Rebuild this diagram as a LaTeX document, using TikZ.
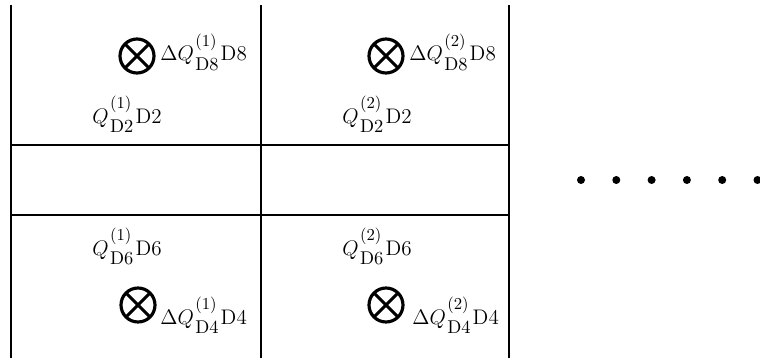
\documentclass[tikz,border=0pt]{standalone}
\usepackage{amsmath}
\usetikzlibrary{positioning}
\newcommand{\qsup}[1]{\rlap{\raisebox{8pt}{\fontsize{9.5}{11}\selectfont(#1)}}}
\newcommand{\qsub}[1]{\raisebox{-5.5pt}{\fontsize{10.5}{12}\selectfont #1}}
\newcommand{\qlab}[4]{$#1Q$\kern0.8pt\qsup{#2}\qsub{#3}\kern1.2pt#4}
\tikzset{
  gridline/.style={line width=1.6pt,draw=black},
  mixer/.style={circle,draw=black,line width=1.8pt,minimum size=6.8mm,inner sep=0pt,
    path picture={\draw[line width=1.8pt] (path picture bounding box.north west) -- (path picture bounding box.south east)
      (path picture bounding box.north east) -- (path picture bounding box.south west);}},
  lbl/.style={anchor=base west,inner sep=0pt,font=\fontsize{12}{14}\selectfont},
  dotnode/.style={circle,fill=black,inner sep=0pt,minimum size=1.6mm}
}

\begin{document}
\begin{tikzpicture}[x=0.02cm,y=-0.02cm]
  \useasboundingbox (0,0) rectangle (760,358);

  % grid of cells
  \coordinate (c0t) at (11,5);   \coordinate (c0b) at (11,358);
  \coordinate (c1t) at (261,5);  \coordinate (c1b) at (261,358);
  \coordinate (c2t) at (509,5);  \coordinate (c2b) at (509,358);
  \coordinate (r1l) at (11,145); \coordinate (r1r) at (509,145);
  \coordinate (r2l) at (11,215); \coordinate (r2r) at (509,215);
  \draw[gridline] (c0t) -- (c0b) (c1t) -- (c1b) (c2t) -- (c2b);
  \draw[gridline] (r1l) -- (r1r) (r2l) -- (r2r);

  % upper row
  \node[mixer] (mxA) at (137,56) {};
  \node[lbl] (dqA) at (160,61) {\qlab{\Delta}{1}{D8}{D8}};
  \node[lbl] (qA) at (92,123) {\qlab{}{1}{D2}{D2}};
  \node[mixer] (mxB) at (386,56) {};
  \node[lbl] (dqB) at (409,61) {\qlab{\Delta}{2}{D8}{D8}};
  \node[lbl] (qB) at (342,123) {\qlab{}{2}{D2}{D2}};

  % lower row
  \node[lbl] (qC) at (92,255) {\qlab{}{1}{D6}{D6}};
  \node[mixer] (mxC) at (138,305) {};
  \node[lbl] (dqC) at (160,324) {\qlab{\Delta}{1}{D4}{D4}};
  \node[lbl] (qD) at (342,255) {\qlab{}{2}{D6}{D6}};
  \node[mixer] (mxD) at (386,305) {};
  \node[lbl] (dqD) at (412,324) {\qlab{\Delta}{2}{D4}{D4}};

  % continuation dots
  \foreach \i in {0,...,5}
    \node[dotnode] (dot\i) at (581+35.3*\i,180) {};
\end{tikzpicture}
\end{document}
